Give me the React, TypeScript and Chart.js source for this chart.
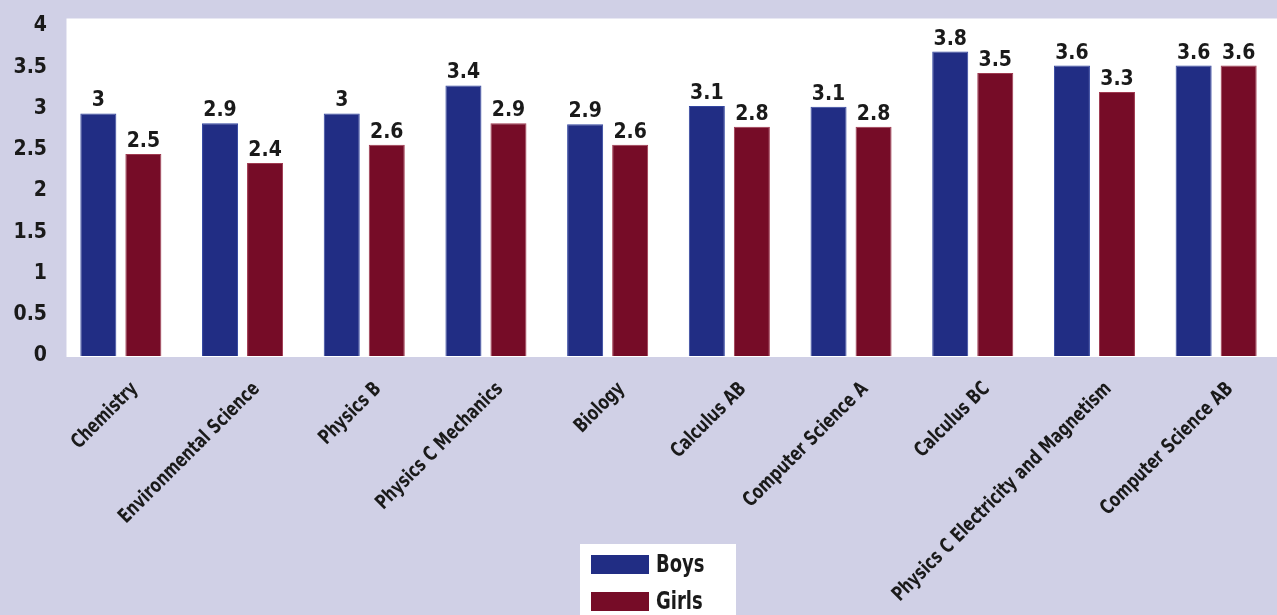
import React, { useEffect, useRef } from "react";
import { Chart, registerables } from "chart.js";

Chart.register(...registerables);

const categories = [
  "Chemistry",
  "Environmental Science",
  "Physics B",
  "Physics C Mechanics",
  "Biology",
  "Calculus AB",
  "Computer Science A",
  "Calculus BC",
  "Physics C Electricity and Magnetism",
  "Computer Science AB",
];
const boysValues = [2.94, 2.82, 2.94, 3.28, 2.81, 3.03, 3.02, 3.69, 3.52, 3.52];
const girlsValues = [2.45, 2.34, 2.56, 2.82, 2.56, 2.78, 2.78, 3.43, 3.2, 3.52];
const boysLabels = ["3", "2.9", "3", "3.4", "2.9", "3.1", "3.1", "3.8", "3.6", "3.6"];
const girlsLabels = ["2.5", "2.4", "2.6", "2.9", "2.6", "2.8", "2.8", "3.5", "3.3", "3.6"];
const seriesNames = ["Boys", "Girls"];

const BG = "#d0d0e6";
const BLUE = "#212d84";
const MAROON = "#760c27";
const TEXT = "#1a1a1a";
const NUM_FONT = "'DejaVu Sans Condensed', 'DejaVu Sans', sans-serif";

export default function App() {
  const ref = useRef<HTMLCanvasElement | null>(null);

  useEffect(() => {
    document.body.style.margin = "0";
    const canvas = ref.current;
    if (!canvas) return;

    const bgPlugin = {
      id: "bgPlugin",
      beforeDraw(chart: any) {
        const { ctx, chartArea, width, height } = chart;
        ctx.save();
        ctx.fillStyle = BG;
        ctx.fillRect(0, 0, width, height);
        ctx.fillStyle = "#ffffff";
        const left = chartArea.left + 6.5;
        const top = chartArea.top - 7.5;
        ctx.fillRect(left, top, width - left, chartArea.bottom + 1 - top);
        ctx.restore();
      },
    };

    // condensed-looking category labels, placed through the x scale
    const xLabelPlugin = {
      id: "xLabelPlugin",
      afterDraw(chart: any) {
        const { ctx } = chart;
        const xs = chart.scales.x;
        const labels = chart.data.labels as string[];
        ctx.save();
        ctx.font = `bold 20px ${NUM_FONT}`;
        ctx.fillStyle = TEXT;
        ctx.textAlign = "right";
        ctx.textBaseline = "middle";
        labels.forEach((lab, i) => {
          const x = xs.getPixelForTick(i) + 14;
          const y = xs.top + 30;
          ctx.save();
          ctx.translate(x, y);
          ctx.rotate(-Math.PI / 4);
          ctx.scale(0.82, 1);
          ctx.fillText(lab, 0, 0);
          ctx.restore();
        });
        ctx.restore();
      },
    };

    const labelPlugin = {
      id: "labelPlugin",
      afterDatasetsDraw(chart: any) {
        const { ctx } = chart;
        const texts = [boysLabels, girlsLabels];
        ctx.save();
        ctx.font = `bold 21px ${NUM_FONT}`;
        ctx.fillStyle = TEXT;
        ctx.textAlign = "center";
        ctx.textBaseline = "alphabetic";
        chart.data.datasets.forEach((_: any, di: number) => {
          const meta = chart.getDatasetMeta(di);
          meta.data.forEach((bar: any, i: number) => {
            ctx.fillText(texts[di][i], bar.x, bar.y - 7);
          });
        });
        ctx.restore();
      },
    };

    const legendPlugin = {
      id: "legendPlugin",
      afterDraw(chart: any) {
        const { ctx } = chart;
        ctx.save();
        ctx.fillStyle = "#ffffff";
        ctx.fillRect(580, 544, 156, 80);
        ctx.font = `bold 25px ${NUM_FONT}`;
        ctx.textBaseline = "middle";
        ctx.textAlign = "left";
        chart.data.datasets.forEach((ds: any, i: number) => {
          const y = 555 + i * 37;
          ctx.fillStyle = ds.backgroundColor;
          ctx.fillRect(591, y, 58, 19);
          ctx.fillStyle = TEXT;
          ctx.save();
          ctx.translate(656, y + 10);
          ctx.scale(0.8, 1);
          ctx.fillText(ds.label, 0, 0);
          ctx.restore();
        });
        ctx.restore();
      },
    };

    const chart = new Chart(canvas, {
      type: "bar",
      data: {
        labels: categories,
        datasets: [
          {
            label: seriesNames[0],
            data: boysValues,
            backgroundColor: BLUE,
            borderColor: "#3346a0",
            borderWidth: 1,
            categoryPercentage: 0.74,
            barPercentage: 0.8,
          },
          {
            label: seriesNames[1],
            data: girlsValues,
            backgroundColor: MAROON,
            borderColor: "#a03a50",
            borderWidth: 1,
            categoryPercentage: 0.74,
            barPercentage: 0.8,
          },
        ],
      },
      options: {
        responsive: false,
        animation: false,
        layout: { padding: { top: 26, right: -16, left: 0, bottom: 0 } },
        plugins: {
          legend: { display: false },
          tooltip: { enabled: false },
          title: { display: false },
        },
        scales: {
          x: {
            grid: { display: false, drawTicks: false },
            border: { display: false },
            ticks: { display: false, autoSkip: false },
            afterFit: (s: any) => {
              s.height = 259;
            },
          },
          y: {
            min: 0,
            max: 4,
            grid: { display: false, drawTicks: false },
            border: { display: false },
            ticks: {
              stepSize: 0.5,
              padding: 13,
              color: TEXT,
              font: { family: NUM_FONT, size: 21, weight: "bold" },
              callback: (v: any) => String(Number(v)),
            },
            afterFit: (s: any) => {
              s.width = 60;
            },
          },
        },
      },
      plugins: [bgPlugin, labelPlugin, xLabelPlugin, legendPlugin],
    });

    return () => chart.destroy();
  }, []);

  return (
    <div style={{ width: 1277, height: 615, overflow: "hidden", background: BG }}>
      <canvas ref={ref} width={1277} height={615} style={{ display: "block" }} />
    </div>
  );
}
